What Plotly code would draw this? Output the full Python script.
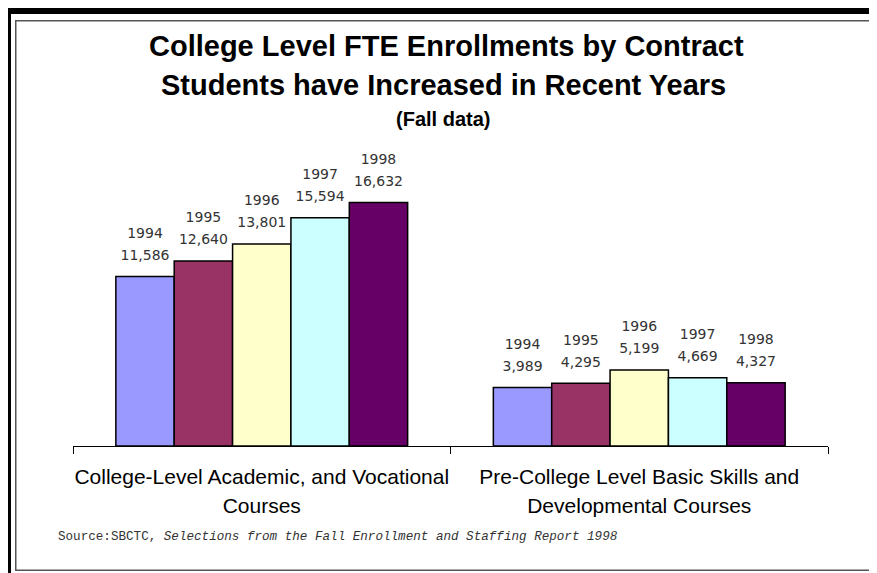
import plotly.graph_objects as go

categories = ["College-Level Academic, and Vocational<br>Courses",
              "Pre-College Level Basic Skills and<br>Developmental Courses"]
years = ["1994", "1995", "1996", "1997", "1998"]
college_level = [11586, 12640, 13801, 15594, 16632]
pre_college = [3989, 4295, 5199, 4669, 4327]
colors = ["#9999FF", "#993366", "#FFFFCC", "#CCFFFF", "#660066"]

W, H = 877, 573
OFF = 8  # page body margin offset
ML = 73 - OFF
MR = W - (828 - OFF)
MB = H - (446 - OFF)
MT = 124 - OFF
PW = W - ML - MR
PH = H - MT - MB
BASE = H - MB  # figure pixel y of plot bottom

def px_x(p):
    return (p - OFF - ML) / PW

def px_y(p):
    return (BASE - (p - OFF)) / PH

fig = go.Figure()
for i, yr in enumerate(years):
    vals = [college_level[i], pre_college[i]]
    fig.add_trace(go.Bar(
        x=categories, y=vals, name=yr,
        marker=dict(color=colors[i], line=dict(color="black", width=1.5)),
        hoverinfo="skip",
    ))
for i, yr in enumerate(years):
    vals = [college_level[i], pre_college[i]]
    texts = [f"<span style='font-size:14px'>{yr}</span><br>"
             f"<span style='font-size:14px'>{v:,}</span>" for v in vals]
    fig.add_trace(go.Scatter(
        x=categories, y=vals, name=yr, mode="markers+text",
        marker=dict(size=18, opacity=0),
        text=texts, textposition="top center", cliponaxis=False,
        textfont=dict(family="DejaVu Sans", size=17, color="#333333"),
        hoverinfo="skip", showlegend=False,
    ))

shapes = []
def rect(x0, y0, x1, y1, fill):
    return dict(type="rect", xref="paper", yref="paper",
                xsizemode="pixel", ysizemode="pixel", xanchor=0, yanchor=0,
                x0=x0 - OFF - ML, x1=x1 - OFF - ML,
                y0=BASE - (y0 - OFF), y1=BASE - (y1 - OFF),
                fillcolor=fill, line=dict(width=0), layer="above")

shapes.append(rect(3, 8, 11, 600, "black"))
shapes.append(rect(3, 8, 900, 14, "black"))
shapes.append(rect(15, 20, 16.5, 571, "#555555"))
shapes.append(rect(15, 20, 900, 21.5, "#555555"))
shapes.append(rect(15, 569.5, 900, 571, "#555555"))

annotations = [
    dict(text="<b>College Level FTE Enrollments by Contract</b>", x=px_x(446), y=px_y(46),
         xref="paper", yref="paper", showarrow=False, xanchor="center", yanchor="middle",
         font=dict(family="Liberation Sans", size=29, color="black")),
    dict(text="<b>Students have Increased in Recent Years</b>", x=px_x(443), y=px_y(85),
         xref="paper", yref="paper", showarrow=False, xanchor="center", yanchor="middle",
         font=dict(family="Liberation Sans", size=29, color="black")),
    dict(text="<b>(Fall data)</b>", x=px_x(443), y=px_y(119),
         xref="paper", yref="paper", showarrow=False, xanchor="center", yanchor="middle",
         font=dict(family="Liberation Sans", size=20, color="black")),
    dict(text="Source:SBCTC, <i>Selections from the Fall Enrollment and Staffing Report 1998</i>",
         x=px_x(56), y=px_y(537), xref="paper", yref="paper", showarrow=False,
         xanchor="left", yanchor="middle",
         font=dict(family="Liberation Mono", size=12.6, color="#333333")),
]

ticktext = [c.replace("<br>", "</span><br><span style='font-size:21px'>") for c in categories]
ticktext = [f"<span style='font-size:21px'>{t}</span>" for t in ticktext]

fig.update_layout(
    width=W, height=H,
    margin=dict(l=ML, r=MR, t=MT, b=MB, pad=0),
    paper_bgcolor="white", plot_bgcolor="white",
    barmode="group", bargap=0.227, bargroupgap=0,
    scattermode="group", scattergap=0.227,
    showlegend=False,
    shapes=shapes, annotations=annotations,
    xaxis=dict(type="category", tickmode="array", tickvals=categories, ticktext=ticktext,
               tickangle=0, automargin=False,
               showline=True, linecolor="black", linewidth=1,
               ticks="outside", tickson="boundaries", ticklen=7, tickcolor="black",
               ticklabelstandoff=11,
               showgrid=False, zeroline=False,
               tickfont=dict(family="Liberation Sans", size=22, color="black")),
    yaxis=dict(range=[0, 22000], visible=False, showgrid=False, zeroline=False,
               automargin=False),
)

fig.write_html("out.html")
